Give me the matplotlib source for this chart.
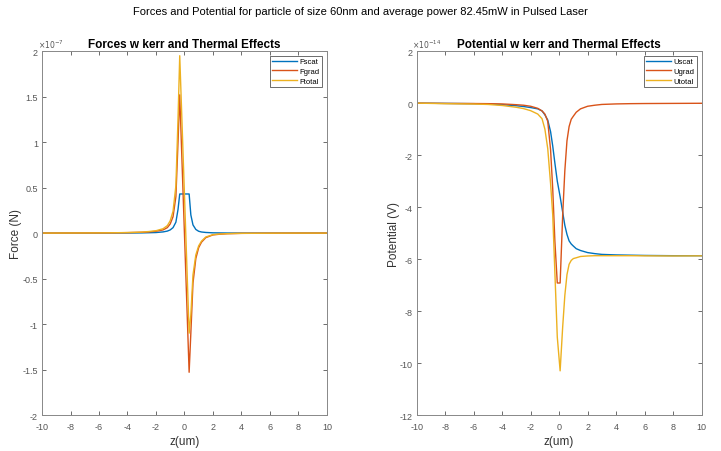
import numpy as np
import matplotlib
matplotlib.use("Agg")
import matplotlib.pyplot as plt

plt.rcParams['font.family'] = ['Liberation Sans', 'DejaVu Sans']
plt.rcParams['axes.unicode_minus'] = False

# forces, in units of 1e-7 N
z_force = [-10, -8, -6, -5, -4, -3, -2.5, -2, -1.5, -1.2, -1, -0.8, -0.6, -0.45, -0.33,
           0, 0.33, 0.45, 0.6, 0.8, 1, 1.2, 1.5, 2, 2.5, 3, 4, 5, 6, 8, 10]
Fscat = [0, 0, 0, 0.0005, 0.001, 0.002, 0.004, 0.006, 0.013, 0.022, 0.035, 0.06, 0.12, 0.26, 0.43,
         0.43, 0.43, 0.2, 0.09, 0.04, 0.02, 0.012, 0.007, 0.003, 0.002, 0.001, 0.0005, 0, 0, 0, 0]
Fgrad = [0, 0.001, 0.002, 0.003, 0.005, 0.009, 0.013, 0.02, 0.035, 0.06, 0.1, 0.18, 0.4, 1.0, 1.52,
         0.0, -1.53, -1.1, -0.55, -0.28, -0.16, -0.1, -0.05, -0.02, -0.012, -0.007, -0.003, -0.002, -0.001, 0, 0]
Ftotal = [0, 0.001, 0.002, 0.0035, 0.006, 0.011, 0.017, 0.026, 0.048, 0.082, 0.135, 0.24, 0.52, 1.26, 1.95,
          0.43, -1.10, -0.90, -0.46, -0.24, -0.14, -0.088, -0.043, -0.017, -0.010, -0.006, -0.0025, -0.002, -0.001, 0, 0]

# potentials, in units of 1e-14 V
z_pot = [-10, -8, -6, -5, -4, -3, -2.5, -2, -1.5, -1.2, -1, -0.8, -0.6, -0.45, -0.3, -0.13,
         0.07, 0.25, 0.4, 0.55, 0.7, 0.85, 1, 1.2, 1.5, 2, 2.5, 3, 4, 5, 6, 8, 10]
Uscat = [0, -0.01, -0.02, -0.03, -0.06, -0.1, -0.13, -0.17, -0.22, -0.3, -0.45, -0.65, -1.1, -1.65, -2.3, -3.0,
         -3.6, -4.2, -4.7, -5.05, -5.3, -5.42, -5.5, -5.6, -5.67, -5.75, -5.79, -5.82, -5.84, -5.85, -5.86, -5.87, -5.87]
Ugrad = [0, -0.01, -0.015, -0.02, -0.03, -0.06, -0.08, -0.12, -0.2, -0.3, -0.42, -0.7, -1.8, -3.3, -5.3, -6.92,
         -6.92, -4.3, -2.6, -1.45, -0.9, -0.62, -0.5, -0.35, -0.22, -0.12, -0.08, -0.05, -0.03, -0.02, -0.015, -0.01, -0.005]
Utotal = [0, -0.02, -0.035, -0.05, -0.09, -0.16, -0.21, -0.29, -0.42, -0.6, -1.0, -1.75, -3.1, -4.3, -6.5, -9.0,
          -10.3, -8.6, -7.4, -6.6, -6.2, -6.05, -5.98, -5.95, -5.9, -5.88, -5.87, -5.87, -5.87, -5.87, -5.875, -5.88, -5.875]

colors = ['#0072BD', '#D95319', '#EDB120']
axcol = '#555555'

fig = plt.figure(figsize=(7.21, 4.52), dpi=100)
fig.suptitle('Forces and Potential for particle of size 60nm and average power 82.45mW in Pulsed Laser',
             fontsize=8, y=0.985)

ax1 = fig.add_axes([0.0583, 0.0796, 0.395, 0.805])
ax2 = fig.add_axes([0.578, 0.0796, 0.395, 0.805])


def style(ax, title, ylabel, yticks, ylim, exp):
    ax.set_xlim(-10, 10)
    ax.set_ylim(*ylim)
    ax.set_xticks(range(-10, 11, 2))
    ax.set_yticks(yticks)
    ax.set_yticklabels(['%g' % t for t in yticks])
    ax.tick_params(direction='in', top=True, right=True, length=3, width=0.6,
                   labelsize=6.5, colors=axcol)
    ax.tick_params(axis='x', pad=5)
    ax.tick_params(axis='y', pad=3)
    for s in ax.spines.values():
        s.set_color('#888888')
        s.set_linewidth(0.7)
    ax.set_title(title, fontsize=8.5, fontweight='bold', pad=3)
    ax.set_xlabel('z(um)', fontsize=8.5, color='#333333', labelpad=3)
    ax.set_ylabel(ylabel, fontsize=8.5, color='#333333', labelpad=0)
    ax.text(-0.015, 1.003, r'$\times10^{%d}$' % exp, transform=ax.transAxes,
            fontsize=5.5, color=axcol, ha='left', va='bottom')


ax1.plot(z_force, Fscat, color=colors[0], lw=1.0, label='Fscat')
ax1.plot(z_force, Fgrad, color=colors[1], lw=1.0, label='Fgrad')
ax1.plot(z_force, Ftotal, color=colors[2], lw=1.0, label='Ftotal')
style(ax1, 'Forces w kerr and Thermal Effects', 'Force (N)',
      [-2, -1.5, -1, -0.5, 0, 0.5, 1, 1.5, 2], (-2, 2), -7)

ax2.plot(z_pot, Uscat, color=colors[0], lw=1.0, label='Uscat')
ax2.plot(z_pot, Ugrad, color=colors[1], lw=1.0, label='Ugrad')
ax2.plot(z_pot, Utotal, color=colors[2], lw=1.0, label='Utotal')
style(ax2, 'Potential w kerr and Thermal Effects', 'Potential (V)',
      list(range(-12, 3, 2)), (-12, 2), -14)

for ax in (ax1, ax2):
    leg = ax.legend(loc='upper right', fontsize=5.5, fancybox=False, framealpha=1,
                    edgecolor='#555555', handlelength=3.2, handletextpad=0.4,
                    borderpad=0.3, labelspacing=0.3, borderaxespad=0.6)
    leg.get_frame().set_linewidth(0.6)

fig.savefig('out.png', dpi=100)
